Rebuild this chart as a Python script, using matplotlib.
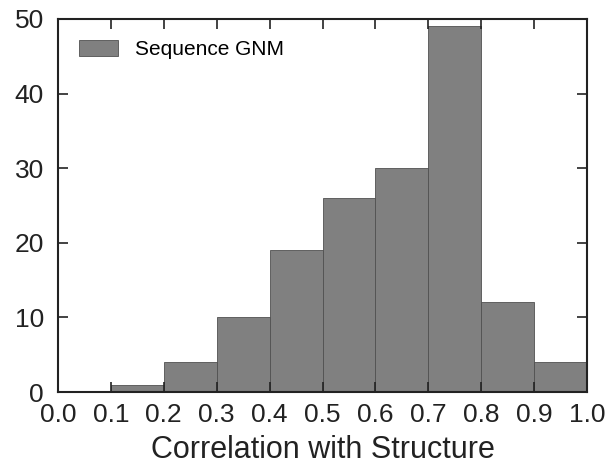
import numpy as np
import matplotlib
matplotlib.use("Agg")
import matplotlib.pyplot as plt

plt.rcParams['font.family'] = ['Liberation Sans', 'DejaVu Sans']

# histogram data
bin_edges = [0.0, 0.1, 0.2, 0.3, 0.4, 0.5, 0.6, 0.7, 0.8, 0.9, 1.0]
counts = [0, 1, 4, 10, 19, 26, 30, 49, 12, 4]
x_ticks = [0.0, 0.1, 0.2, 0.3, 0.4, 0.5, 0.6, 0.7, 0.8, 0.9, 1.0]
y_ticks = [0, 10, 20, 30, 40, 50]

fig = plt.figure(figsize=(6.08, 4.67), dpi=100)
ax = fig.add_axes([58 / 608, 1 - 392 / 467, (587 - 58) / 608, (392 - 19) / 467])

left = np.array(bin_edges[:-1])
widths = np.diff(bin_edges)
ax.bar(left, counts, width=widths, align='edge', color='#808080',
       edgecolor='#505050', linewidth=0.6, label='Sequence GNM')

ax.set_xlim(0, 1)
ax.set_ylim(0, 50)
ax.set_xticks(x_ticks)
ax.set_xticklabels([f"{t:.1f}" for t in x_ticks])
ax.set_yticks(y_ticks)
ax.tick_params(direction='in', length=7, width=1.2, top=True, right=True,
               labelsize=19, colors='#222222')
ax.tick_params(axis='x', pad=8)
ax.tick_params(axis='y', pad=10)
for s in ax.spines.values():
    s.set_linewidth(1.5)
    s.set_color('#222222')

ax.set_xlabel('Correlation with Structure', fontsize=22, color='#222222', labelpad=6)
ax.legend(loc='upper left', frameon=False, fontsize=15, handlelength=1.9,
          handleheight=0.8, borderaxespad=0.6)

fig.savefig('out.png', dpi=100)
